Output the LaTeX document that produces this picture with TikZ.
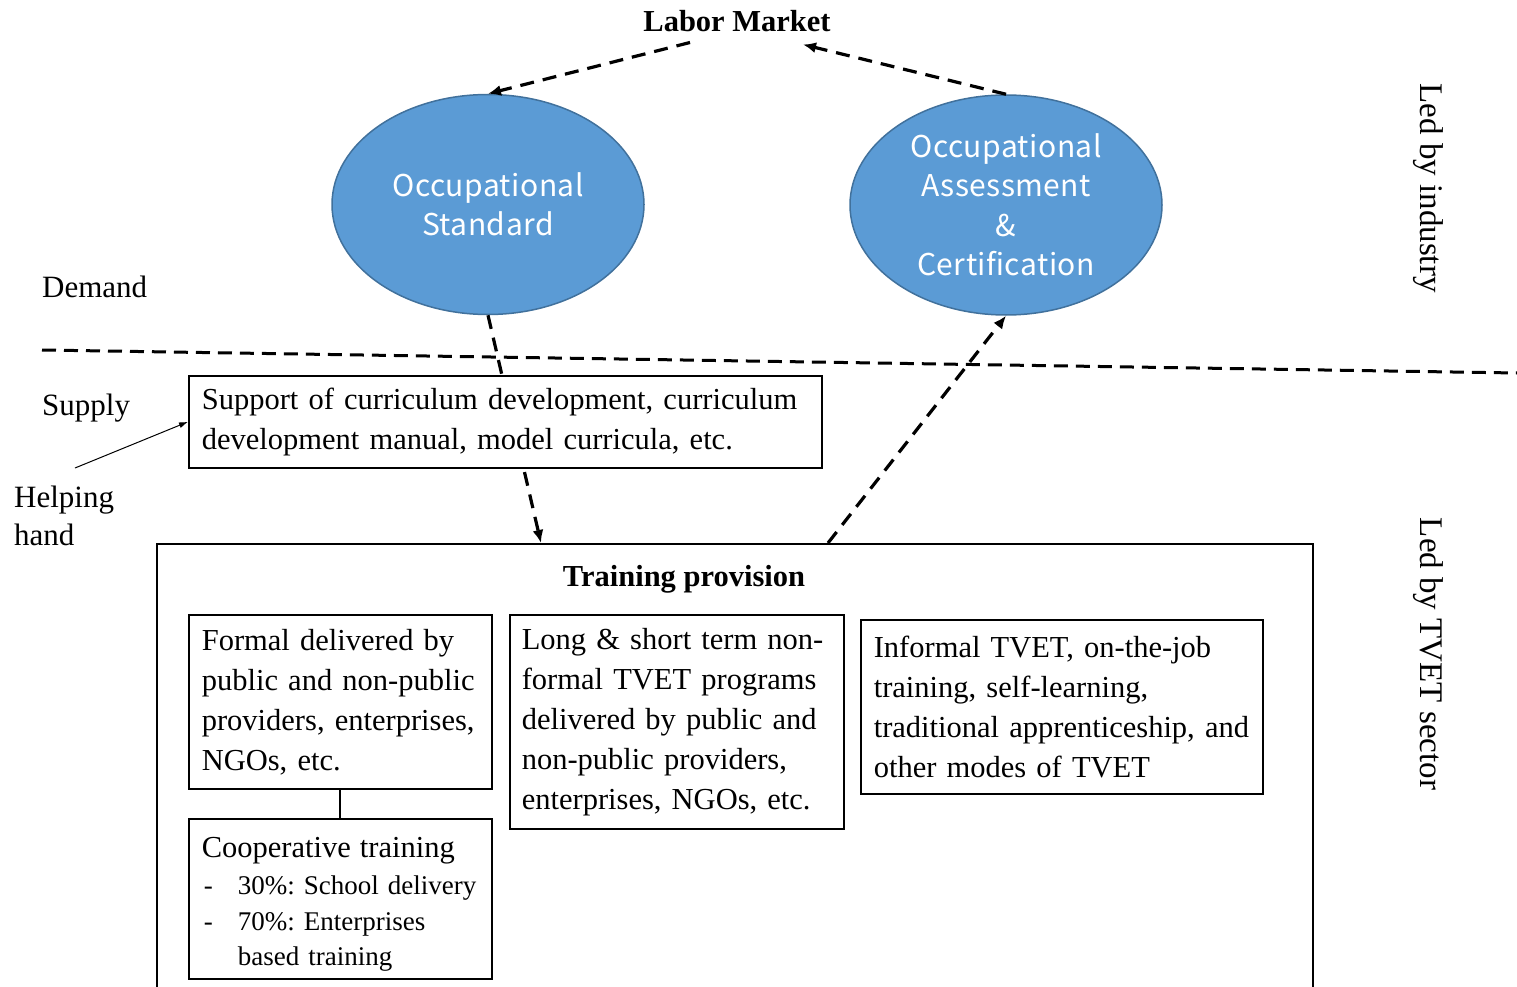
\documentclass[tikz,border=0pt]{standalone}
\usepackage{fontspec}
\setmainfont{Liberation Serif}
\newfontfamily\ellfont[LetterSpace=1.5]{Noto Sans CJK JP}
\usetikzlibrary{shapes.geometric,arrows.meta,calc}
\definecolor{ellblue}{HTML}{5B9BD5}
\definecolor{ellline}{HTML}{41719C}
\begin{document}
\frenchspacing
\begin{tikzpicture}[x=1pt,y=-1pt,
  ell/.style={ellipse, draw=ellline, line width=1.5pt, fill=ellblue,
    minimum width=312pt, minimum height=220pt, inner sep=0pt, text=white,
    align=center, font=\ellfont\fontsize{30}{39.5}\selectfont},
  tbox/.style={draw, line width=1.6pt, fill=white, align=left, anchor=north west,
    inner xsep=13pt, inner ysep=0pt, font=\fontsize{30.5}{40}\selectfont},
  dasharrow/.style={line width=3.2pt, dash pattern=on 14pt off 9pt,
    -{Latex[length=13pt,width=11pt]}},
  dline/.style={line width=3pt, dash pattern=on 14pt off 8pt},
  lbl/.style={font=\fontsize{31}{38}\selectfont, align=left, inner sep=0pt},
  sidelbl/.style={rotate=-90, inner sep=0pt, font=\fontsize{33}{40}\selectfont},
  ttl/.style={inner sep=0pt, font=\bfseries\fontsize{30.5}{36}\selectfont}
]
\useasboundingbox (0,0) rectangle (1517,987);

% title
\node[ttl, anchor=base] (lm) at (737,32) {Labor Market};

% ellipses
\node[ell] (os) at (488,204.5) {Occupational\\Standard};
\node[ell] (oac) at (1006,205) {Occupational\\Assessment\\\&\\Certification};

\coordinate (lmL) at ($(lm.south)+(-47,10)$);
\coordinate (lmR) at ($(lm.south)+(66,12)$);
\draw[dasharrow] (lmL) -- (os.north);
\draw[dasharrow] (oac.north) -- (lmR);

% side labels
\node[lbl, anchor=base west] (dem) at (42,297) {Demand};
\node[lbl, anchor=base west] (sup) at (42,415) {Supply};
\node[lbl, anchor=north west] (hh) at (14,486) {Helping\\hand};

\node[sidelbl] (ind) at (1428,188) {Led by industry};
\node[sidelbl] (tvet) at (1428,654) {Led by TVET sector};

% demand / supply divider
\coordinate (divL) at (42,350);
\coordinate (divR) at (1517,373);
\draw[dline] (divL) -- (divR);

% training provision frame
\node[draw, line width=2.2pt, anchor=north west, minimum width=1156pt,
  minimum height=480pt, inner sep=0pt] (tp) at (156,543) {};
\node[ttl] (tpt) at (684,579) {Training provision};

\coordinate (tpIn) at ($(tp.north west)+(385,0)$);
\coordinate (tpOut) at ($(tp.north west)+(672,0)$);
\draw[dasharrow] (os.south) -- (tpIn);
\draw[dasharrow] (tpOut) -- (oac.south);

% curriculum support box
\node[tbox, text width=607pt, minimum height=92pt] (cur) at (188,375)
  {Support of curriculum development, curriculum\\development manual, model curricula, etc.};

\coordinate (hhS) at (75,468);
\draw[line width=1pt, -{Latex[length=9pt,width=6pt]}] (hhS) -- (cur.west);

% provision boxes
\node[tbox, text width=277pt, minimum height=160pt, font=\fontsize{27}{35.5}\selectfont] (coop) at (188,818)
  {\mbox{\rule{0pt}{32pt}\fontsize{30.5}{35.5}\selectfont Cooperative training}\\[1.5pt]
   \mbox{\makebox[36pt][l]{\hspace{2pt}-}30\%: School delivery}\\
   \mbox{\makebox[36pt][l]{\hspace{2pt}-}70\%: Enterprises}\\
   \mbox{\hspace*{36pt}based training}};
\node[tbox, text width=277pt, minimum height=174pt] (fa) at (188,614)
  {Formal delivered by\\public and non-public\\providers, enterprises,\\NGOs, etc.};
\draw[line width=2pt] (fa.south) -- (coop.north);

\node[tbox, text width=310pt, minimum height=214pt, inner xsep=12pt] (nf) at (509,614)
  {Long \& short term non-\\formal TVET programs\\delivered by public and\\non-public providers,\\enterprises, NGOs, etc.};
\node[tbox, text width=376pt, minimum height=174pt] (inf) at (860,619)
  {Informal TVET, on-the-job\\training, self-learning,\\traditional apprenticeship, and\\other modes of TVET};
\end{tikzpicture}
\end{document}
